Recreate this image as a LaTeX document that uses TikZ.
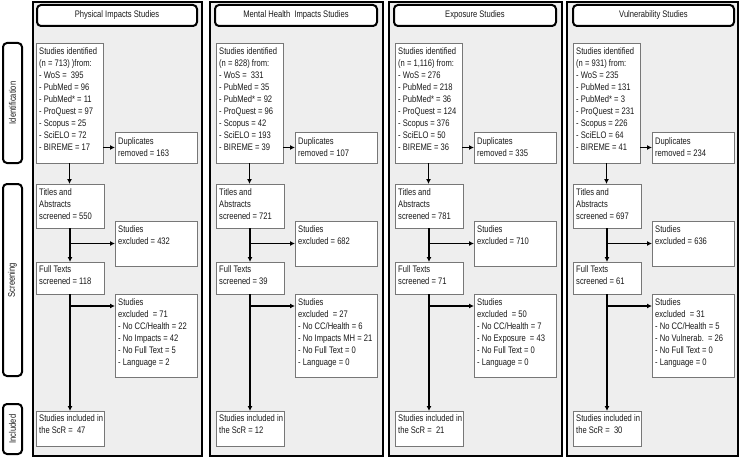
\documentclass[tikz,border=0pt]{standalone}
\usepackage{fontspec}
\setmainfont[FakeStretch=0.8]{Liberation Sans}
\usetikzlibrary{arrows.meta}
\definecolor{panelbg}{HTML}{EEEEEE}
\definecolor{boxline}{HTML}{777777}
\definecolor{ink}{HTML}{1A1A1A}
\tikzset{
  box/.style={draw=boxline, line width=0.6pt, fill=white, anchor=north west, inner sep=0pt, outer sep=0pt},
  txt/.style={anchor=north west, inner sep=0pt, align=left, text=ink, font=\fontsize{9.5}{12}\selectfont, execute at begin node=\strut},
  arr/.style={line width=1.5pt, -{Latex[length=5pt,width=5pt]}},
  panel/.style={draw=black, line width=2pt, fill=panelbg},
  ttl/.style={draw=black, line width=2pt, rounded corners=4pt, fill=white, inner sep=0pt, text=ink, font=\fontsize{9.5}{12}\selectfont},
  phase/.style={draw=black, line width=2pt, rounded corners=4pt, fill=white, inner sep=0pt, text=ink, font=\fontsize{9.5}{12}\selectfont, rotate=90}
}
\newcommand\pnl[9]{%
  \node[box, minimum width=67pt, minimum height=120pt] (#1s) at (#2,43) {};
  \node[txt] (#1st) at ([xshift=3pt,yshift=-4pt]#1s.north west) {#3};
  \node[box, minimum width=82pt, minimum height=31pt] (#1d) at (#2+79,132) {};
  \node[txt] (#1dt) at ([xshift=3pt,yshift=-5pt]#1d.north west) {Duplicates\\removed = #4};
  \node[box, minimum width=68pt, minimum height=44pt] (#1t) at (#2,184) {};
  \node[txt] (#1tt) at ([xshift=3pt,yshift=-4pt]#1t.north west) {Titles and\\Abstracts\\screened = #5};
  \node[box, minimum width=82pt, minimum height=45pt] (#1e) at (#2+79,221) {};
  \node[txt] (#1et) at ([xshift=3pt,yshift=-4pt]#1e.north west) {Studies\\excluded = #6};
  \node[box, minimum width=68pt, minimum height=32pt] (#1f) at (#2,262) {};
  \node[txt] (#1ft) at ([xshift=3pt,yshift=-3pt]#1f.north west) {Full Texts\\screened = #7};
  \node[box, minimum width=82pt, minimum height=83pt] (#1x) at (#2+79,294) {};
  \node[txt] (#1xt) at ([xshift=3pt,yshift=-4pt]#1x.north west) {#8};
  \node[box, minimum width=68pt, minimum height=35pt] (#1i) at (#2,411) {};
  \node[txt] (#1it) at ([xshift=3pt,yshift=-3pt]#1i.north west) {Studies included in\\the ScR = #9};
  \coordinate (#1b) at ([yshift=-12pt]#1x.north west);
  \draw[arr] (#1s.east |- #1d.west) -- (#1d.west);
  \draw[arr] (#1s.south) -- (#1s.south |- #1t.north);
  \draw[arr] (#1t.south) -- (#1t.south |- #1f.north);
  \draw[arr] (#1t.south |- #1e.west) -- (#1e.west);
  \draw[arr] (#1f.south) -- (#1f.south |- #1i.north);
  \draw[arr] (#1f.south |- #1b) -- (#1b);
}
\begin{document}
\begin{tikzpicture}[x=1pt, y=-1pt]
\useasboundingbox (0,0) rectangle (740,460);
% panels
\draw[panel] (33,2) rectangle (202,456);
\draw[panel] (210,2) rectangle (383,456);
\draw[panel] (389,2) rectangle (562,456);
\draw[panel] (567,2) rectangle (738,456);
% titles
\node[ttl, minimum width=160pt, minimum height=21pt] (h1) at (117,15.5) {Physical Impacts Studies};
\node[ttl, minimum width=162pt, minimum height=21pt] (h2) at (296,15.5) {Mental Health\ \ Impacts Studies};
\node[ttl, minimum width=162pt, minimum height=21pt] (h3) at (475,15.5) {Exposure Studies};
\node[ttl, minimum width=161pt, minimum height=21pt] (h4) at (653.5,15.5) {Vulnerability Studies};
% phases
\node[phase, minimum width=120pt, minimum height=19pt] (ph1) at (12.5,103) {Identification};
\node[phase, minimum width=192pt, minimum height=19pt] (ph2) at (12.5,280) {Screening};
\node[phase, minimum width=50pt, minimum height=19pt] (ph3) at (12.5,429) {Included};
% columns
\pnl{a}{36}{Studies identified\\(n = 713) )from:\\- WoS =\ \ 395\\- PubMed = 96\\- PubMed* = 11\\- ProQuest = 97\\- Scopus = 25\\- SciELO = 72\\- BIREME = 17}%
  {163}{550}{432}{118}%
  {Studies\\excluded\ \ = 71\\- No CC/Health = 22\\- No Impacts = 42\\- No Full Text = 5\\- Language = 2}%
  {\ 47}
\pnl{b}{216}{Studies identified\\(n = 828) from:\\- WoS =\ \ 331\\- PubMed = 35\\- PubMed* = 92\\- ProQuest = 96\\- Scopus = 42\\- SciELO = 193\\- BIREME = 39}%
  {107}{721}{682}{39}%
  {Studies\\excluded\ \ = 27\\- No CC/Health = 6\\- No Impacts MH = 21\\- No Full Text = 0\\- Language = 0}%
  {12}
\pnl{c}{395}{Studies identified\\(n = 1,116) from:\\- WoS = 276\\- PubMed = 218\\- PubMed* = 36\\- ProQuest = 124\\- Scopus = 376\\- SciELO = 50\\- BIREME = 36}%
  {335}{781}{710}{71}%
  {Studies\\excluded\ \ = 50\\- No CC/Health = 7\\- No Exposure\ \ = 43\\- No Full Text = 0\\- Language = 0}%
  {\ 21}
\pnl{d}{573}{Studies identified\\(n = 931) from:\\- WoS = 235\\- PubMed = 131\\- PubMed* = 3\\- ProQuest = 231\\- Scopus = 226\\- SciELO = 64\\- BIREME = 41}%
  {234}{697}{636}{61}%
  {Studies\\excluded\ \ = 31\\- No CC/Health = 5\\- No Vulnerab.\ \ = 26\\- No Full Text = 0\\- Language = 0}%
  {\ 30}
\end{tikzpicture}
\end{document}
